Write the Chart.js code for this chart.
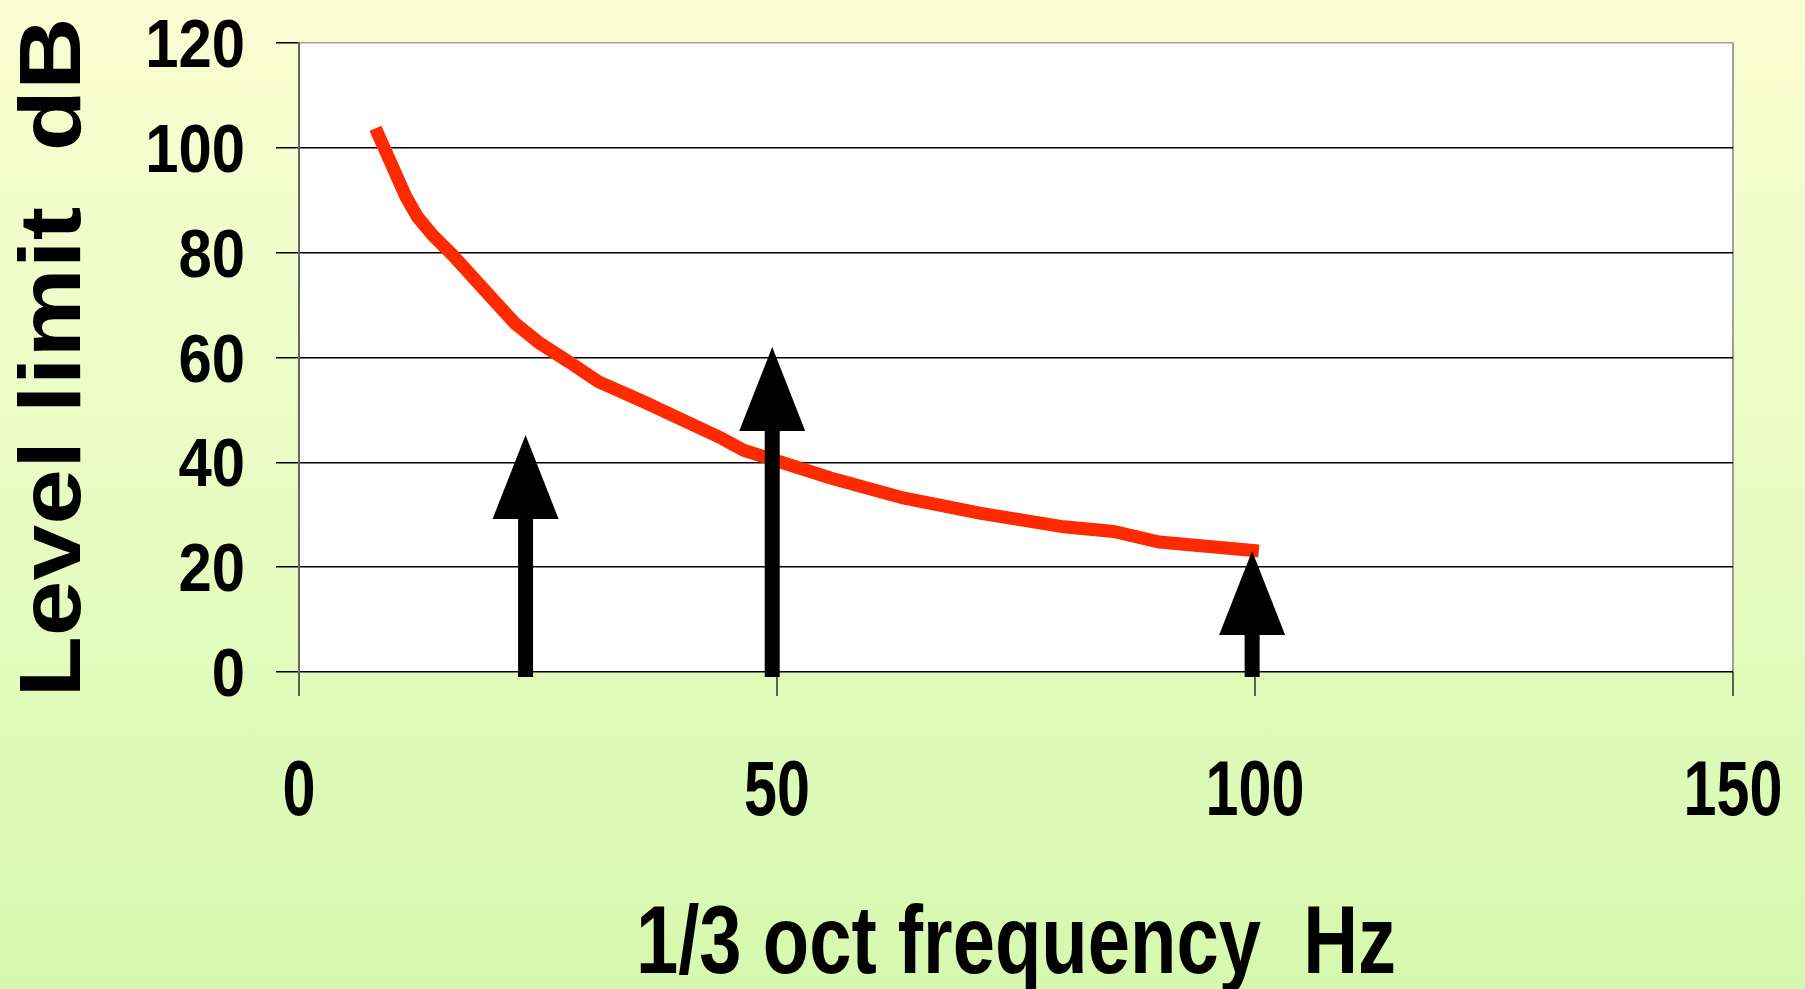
<!DOCTYPE html>
<html>
<head>
<meta charset="utf-8">
<script src="https://cdn.jsdelivr.net/npm/chart.js@4.4.1/dist/chart.umd.min.js"></script>
<style>
  html, body { margin: 0; padding: 0; }
  body {
    width: 1805px; height: 989px; overflow: hidden;
    background: linear-gradient(to bottom, #fafdd2 0%, #eafcc4 45%, #d6f8ae 100%);
  }
  #wrap { position: relative; width: 1805px; height: 989px; }
</style>
</head>
<body>
<div id="wrap"><canvas id="chart1"></canvas></div>
<script>
// limit curve, 1/3 octave frequency (Hz) vs level (dB)
var freq  = [8, 11.2, 12.4, 14, 16.1, 20.2, 22.6, 25.2, 28.2, 31.3, 36, 44.2, 46.5, 55.6, 63.2, 71.2, 80, 85.2, 90, 100.4];
var level = [103.7, 90.6, 86.8, 83.3, 79.5, 71.3, 66.5, 62.7, 59.2, 55.4, 51.6, 44.6, 42.3, 37.0, 33.2, 30.3, 27.7, 26.8, 24.8, 23.1];

// arrows: frequency and level of the tip
var arrowFreq = [23.7, 49.5, 99.7];
var arrowTip  = [45.2, 62.0, 23.1];

var xTicks = [0, 50, 100, 150];
var yTicks = [0, 20, 40, 60, 80, 100, 120];
var xTitle = '1/3 oct frequency  Hz';
var yTitle = 'Level limit  dB';

var font = "'Liberation Sans', Arial, sans-serif";

var plotBg = {
  id: 'plotBg',
  beforeDraw: function(chart) {
    var a = chart.chartArea, ctx = chart.ctx;
    ctx.save();
    ctx.fillStyle = '#ffffff';
    ctx.fillRect(a.left, a.top, a.right - a.left, a.bottom - a.top);
    ctx.restore();
  }
};

var arrows = {
  id: 'arrows',
  afterDatasetsDraw: function(chart) {
    var ctx = chart.ctx, xs = chart.scales.x, ys = chart.scales.y;
    var headLen = 84, headW = 66, shaftW = 15;
    ctx.save();
    ctx.fillStyle = '#000';
    for (var i = 0; i < arrowFreq.length; i++) {
      var x = xs.getPixelForValue(arrowFreq[i]);
      var tip = ys.getPixelForValue(arrowTip[i]);
      var base = ys.getPixelForValue(0) + 5;
      ctx.fillRect(x - shaftW / 2, tip + headLen - 1, shaftW, base - tip - headLen + 1);
      ctx.beginPath();
      ctx.moveTo(x, tip);
      ctx.lineTo(x + headW / 2, tip + headLen);
      ctx.lineTo(x - headW / 2, tip + headLen);
      ctx.closePath();
      ctx.fill();
    }
    ctx.restore();
  }
};

// the labels in the original are stretched type (narrow on x, long on y),
// so they are drawn here with a squeeze / stretch on the text width
var labels = {
  id: 'labels',
  afterDraw: function(chart) {
    var ctx = chart.ctx, xs = chart.scales.x, ys = chart.scales.y, a = chart.chartArea;
    ctx.save();
    ctx.fillStyle = '#000';
    ctx.textBaseline = 'alphabetic';

    ctx.font = 'bold 77px ' + font;
    ctx.textAlign = 'center';
    xTicks.forEach(function(v) {
      var t = String(v);
      ctx.fillText(t, xs.getPixelForValue(v), a.bottom + 143, ctx.measureText(t).width * 0.77);
    });

    ctx.font = 'bold 68px ' + font;
    ctx.textAlign = 'right';
    yTicks.forEach(function(v) {
      var t = String(v);
      ctx.fillText(t, a.left - 54, ys.getPixelForValue(v) + 24, ctx.measureText(t).width * 0.88);
    });

    ctx.font = 'bold 96px ' + font;
    ctx.textAlign = 'center';
    ctx.fillText(xTitle, (a.left + a.right) / 2, a.bottom + 301, 760);

    // y title, rotated, baseline at x=80, stretched to ~680px long
    ctx.font = 'bold 88px ' + font;
    var w = ctx.measureText(yTitle).width;
    ctx.translate(80, (a.top + a.bottom) / 2);
    ctx.rotate(-Math.PI / 2);
    ctx.scale(680 / w, 1);
    ctx.fillText(yTitle, 0, 0);
    ctx.restore();
  }
};

var chart1 = new Chart(document.querySelector('#chart1'), {
  type: 'scatter',
  data: {
    datasets: [{
      data: freq.map(function(f, i) { return {x: f, y: level[i]}; }),
      showLine: true,
      borderColor: '#ff2a00',
      borderWidth: 13,
      pointRadius: 0,
      tension: 0,
      borderCapStyle: 'butt',
      borderJoinStyle: 'miter'
    }]
  },
  options: {
    responsive: true,
    maintainAspectRatio: false,
    animation: false,
    layout: { padding: { top: 43, right: 72, left: 0, bottom: 0 } },
    plugins: { legend: { display: false }, tooltip: { enabled: false } },
    scales: {
      x: {
        type: 'linear',
        min: 0, max: 150,
        afterBuildTicks: function(s) { s.ticks = xTicks.map(function(v) { return {value: v}; }); },
        afterFit: function(s) { s.height = 317; },
        border: { display: false },
        grid: {
          color: function(c) { return c.tick && c.tick.value === 150 ? '#a0a0a0' : 'rgba(0,0,0,0)'; },
          lineWidth: 2,
          tickColor: '#000',
          tickLength: 24,
          tickWidth: 1.2
        },
        ticks: { display: false }
      },
      y: {
        min: 0, max: 120,
        afterBuildTicks: function(s) { s.ticks = yTicks.map(function(v) { return {value: v}; }); },
        afterFit: function(s) { s.width = 299; },
        border: { display: true, color: '#666', width: 2 },
        grid: {
          color: function(c) { return c.tick && c.tick.value === 120 ? '#a0a0a0' : '#000'; },
          lineWidth: 1.5,
          tickColor: '#000',
          tickLength: 23
        },
        ticks: { display: false }
      }
    }
  },
  plugins: [plotBg, arrows, labels]
});
</script>
</body>
</html>
